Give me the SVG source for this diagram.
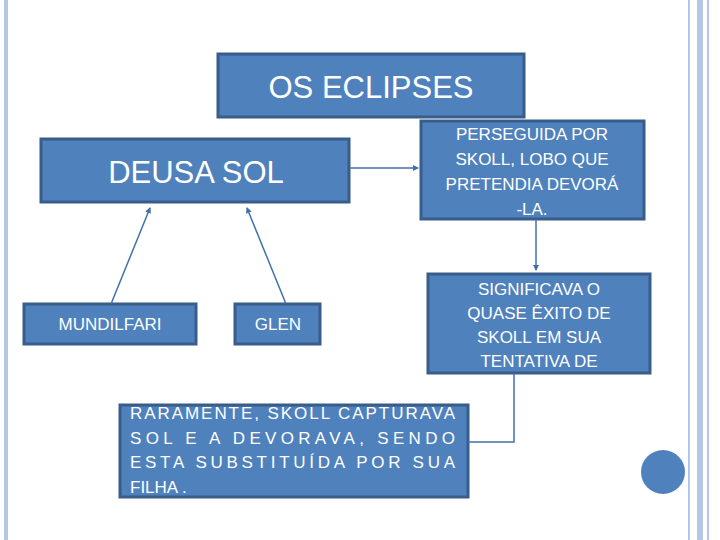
<svg xmlns="http://www.w3.org/2000/svg" width="720" height="540" viewBox="0 0 720 540">
<style>
.b{fill:#4F81BD;stroke:#385D8A;stroke-width:3}
text{fill:#fff;font-family:"Liberation Sans",Arial,sans-serif;text-anchor:middle}
.s{font-size:17px}
.c{stroke:#4170A8;stroke-width:1.5;fill:none}
</style>
<defs><marker id="a" markerWidth="6" markerHeight="6" refX="5" refY="3" orient="auto" markerUnits="userSpaceOnUse"><path d="M0,0L6,3L0,6z" fill="#4170A8"/></marker></defs>
<rect width="720" height="540" fill="#fff"/>
<rect x="4" y="0" width="4" height="540" fill="#B4C7E7"/>
<rect x="688" y="0" width="2" height="540" fill="#B4C7E7"/>
<rect x="697" y="0" width="6" height="540" fill="#B4C7E7"/>
<rect x="707" y="0" width="2" height="540" fill="#B4C7E7"/>
<g id="title"><rect class="b" x="218" y="54" width="306" height="63"/><text x="371" y="98" font-size="31">OS ECLIPSES</text></g>
<g id="deusa"><rect class="b" x="41" y="139" width="308" height="63"/><text x="196" y="183" font-size="31">DEUSA SOL</text></g>
<g id="perseguida"><rect class="b" x="421" y="121" width="223" height="98"/><text class="s" x="532" y="140">PERSEGUIDA POR</text><text class="s" x="532" y="165">SKOLL, LOBO QUE</text><text class="s" x="532" y="190">PRETENDIA DEVORÁ</text><text class="s" x="532" y="215">-LA.</text></g>
<g id="significava"><rect class="b" x="428" y="274" width="222" height="99"/><text class="s" x="539" y="295">SIGNIFICAVA O</text><text class="s" x="539" y="319">QUASE ÊXITO DE</text><text class="s" x="539" y="343">SKOLL EM SUA</text><text class="s" x="539" y="367">TENTATIVA DE</text></g>
<g id="mundilfari"><rect class="b" x="24" y="304" width="172" height="40"/><text class="s" x="110" y="330">MUNDILFARI</text></g>
<g id="glen"><rect class="b" x="235" y="304" width="85" height="40"/><text class="s" x="278" y="330">GLEN</text></g>
<g id="raramente"><rect class="b" x="120" y="405" width="348" height="92"/>
<text class="s" style="text-anchor:start" x="130" y="419" textLength="325" lengthAdjust="spacing">RARAMENTE, SKOLL CAPTURAVA</text>
<text class="s" style="text-anchor:start" x="130" y="444" textLength="325" lengthAdjust="spacing">SOL E A DEVORAVA, SENDO</text>
<text class="s" style="text-anchor:start" x="130" y="468" textLength="325" lengthAdjust="spacing">ESTA SUBSTITUÍDA POR SUA</text>
<text class="s" style="text-anchor:start" x="130" y="493">FILHA .</text></g>
<g id="circle"><ellipse cx="663" cy="472" rx="22" ry="22" fill="#4F81BD"/></g>
<g id="connectors">
<path class="c" d="M349,168H418" marker-end="url(#a)"/>
<path class="c" d="M536,219V270" marker-end="url(#a)"/>
<path class="c" d="M514,373V442H468"/>
<path class="c" d="M111,304L150,208" marker-end="url(#a)"/>
<path class="c" d="M286,304L247,208" marker-end="url(#a)"/>
</g>
</svg>
